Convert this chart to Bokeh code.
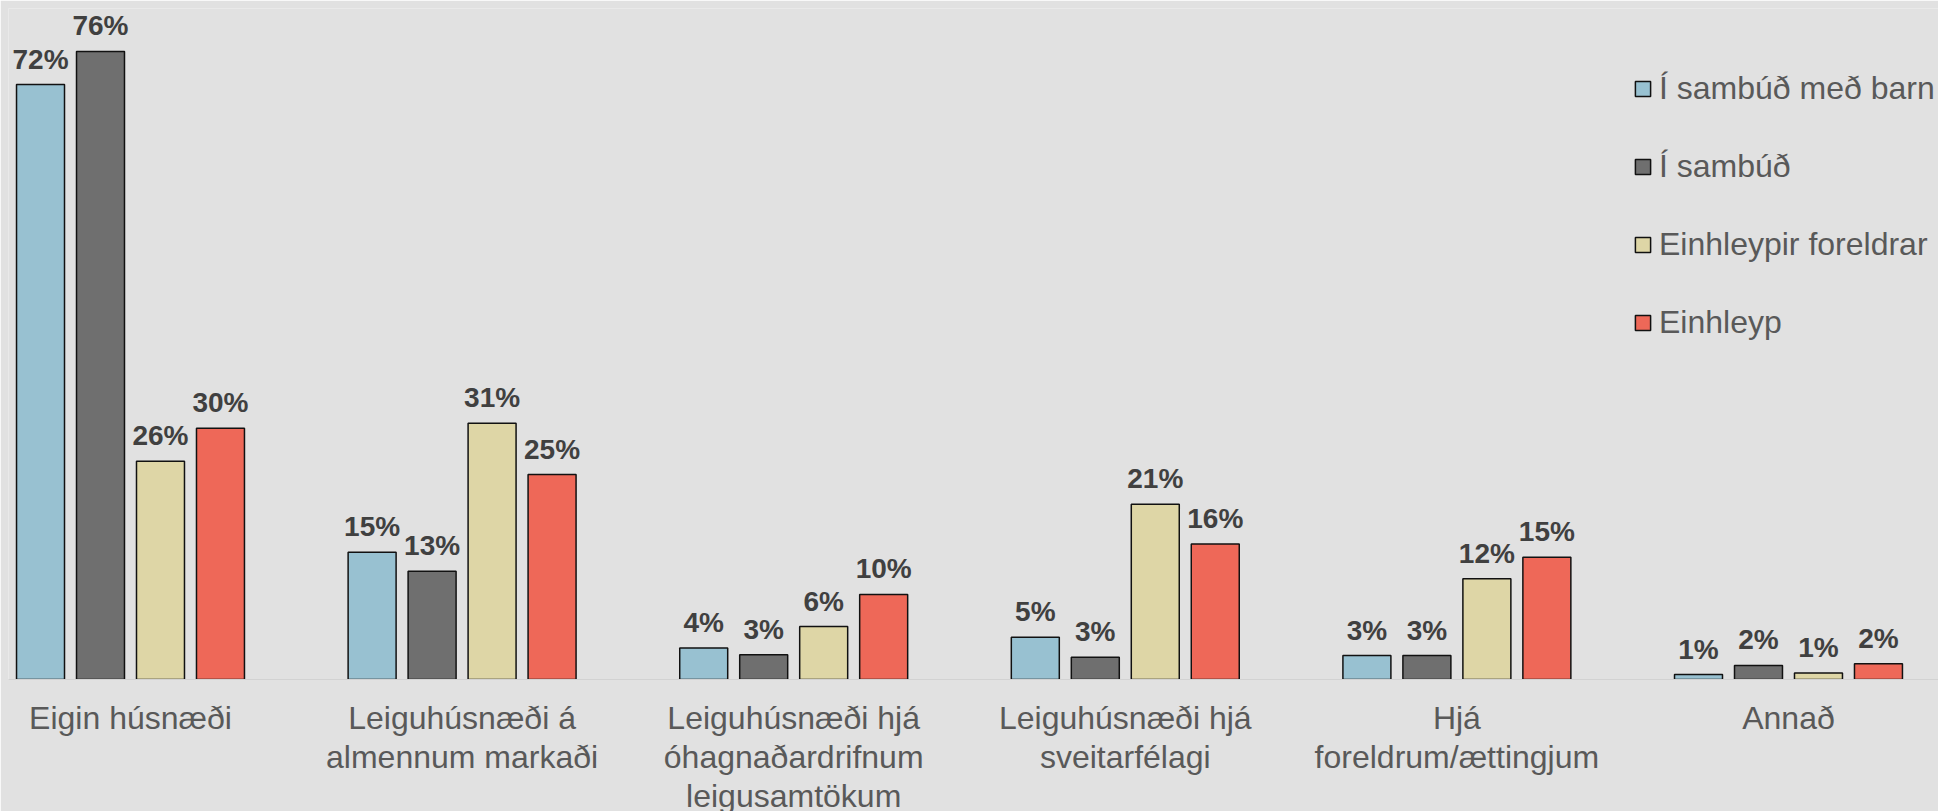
from bokeh.plotting import figure
from bokeh.models import (ColumnDataSource, LabelSet, Legend, LegendItem, Range1d,
                          FixedTicker)
from bokeh.core.properties import value
from bokeh.embed import file_html
from bokeh.resources import INLINE

# ---- data ----
categories = [
    "Eigin húsnæði",
    "Leiguhúsnæði á\nalmennum markaði",
    "Leiguhúsnæði hjá\nóhagnaðardrifnum\nleigusamtökum",
    "Leiguhúsnæði hjá\nsveitarfélagi",
    "Hjá\nforeldrum/ættingjum",
    "Annað",
]
series_names = ["Í sambúð með barn", "Í sambúð", "Einhleypir foreldrar", "Einhleyp"]
sambud_barn = [72.0, 15.4, 3.8, 5.1, 2.9, 0.6]
sambud = [76.0, 13.1, 3.0, 2.7, 2.9, 1.7]
einhl_foreldrar = [26.4, 31.0, 6.4, 21.2, 12.2, 0.8]
einhleyp = [30.4, 24.8, 10.3, 16.4, 14.8, 1.9]
series_values = [sambud_barn, sambud, einhl_foreldrar, einhleyp]
colors = ["#98C1D1", "#6F6F6F", "#DED6A6", "#EE6858"]

BG = "#E1E1E1"
FONT = "Liberation Sans"

p = figure(width=1938, height=803, frame_width=1930, frame_height=671,
           output_backend="svg", toolbar_location=None,
           x_range=Range1d(-0.3679, 5.4524), y_range=Range1d(0, 81.2),
           background_fill_color=BG, border_fill_color=BG,
           min_border_left=8, min_border_right=0, min_border_top=8, min_border_bottom=0)
p.outline_line_color = None
p.grid.visible = False
p.yaxis.visible = False

pitch = 0.1809
bar_w = 0.1447
offsets = [-1.5 * pitch, -0.5 * pitch, 0.5 * pitch, 1.5 * pitch]

items = []
for name, vals, col, off in zip(series_names, series_values, colors, offsets):
    src = ColumnDataSource(dict(
        x=[i + off for i in range(len(categories))],
        top=vals,
        label=[f"{round(v)}%" for v in vals],
    ))
    r = p.vbar(x="x", top="top", width=bar_w, source=src, fill_color=col,
               line_color="#111111", line_width=1.5)
    items.append(LegendItem(label=name, renderers=[r]))
    p.add_layout(LabelSet(x="x", y="top", text="label", source=src,
                          text_align="center", text_baseline="alphabetic",
                          y_offset=16, text_font=value(FONT), text_font_style="bold",
                          text_font_size="28px", text_color="#404040"))

ax = p.xaxis[0]
ax.ticker = FixedTicker(ticks=list(range(len(categories))))
ax.major_label_overrides = {i: c for i, c in enumerate(categories)}
ax.major_label_text_font = FONT
ax.major_label_text_font_size = "32px"
ax.major_label_text_color = "#595959"
ax.major_label_text_line_height = 1.085
ax.major_label_standoff = 14
ax.major_tick_line_color = None
ax.minor_tick_line_color = None
ax.axis_line_color = "#D2D2D2"
ax.axis_line_width = 1

legend = Legend(items=items, location=(1625, 338), orientation="vertical",
                background_fill_alpha=0, border_line_color=None,
                padding=0, margin=0, spacing=40,
                glyph_width=19, glyph_height=19, label_height=38,
                label_standoff=7, label_text_font=FONT,
                label_text_font_size="32px", label_text_color="#595959")
p.add_layout(legend)

html = file_html(p, INLINE)
html = html.replace("<body>", '<body style="background:#E1E1E1;">', 1)
open("out.html", "w").write(html)
